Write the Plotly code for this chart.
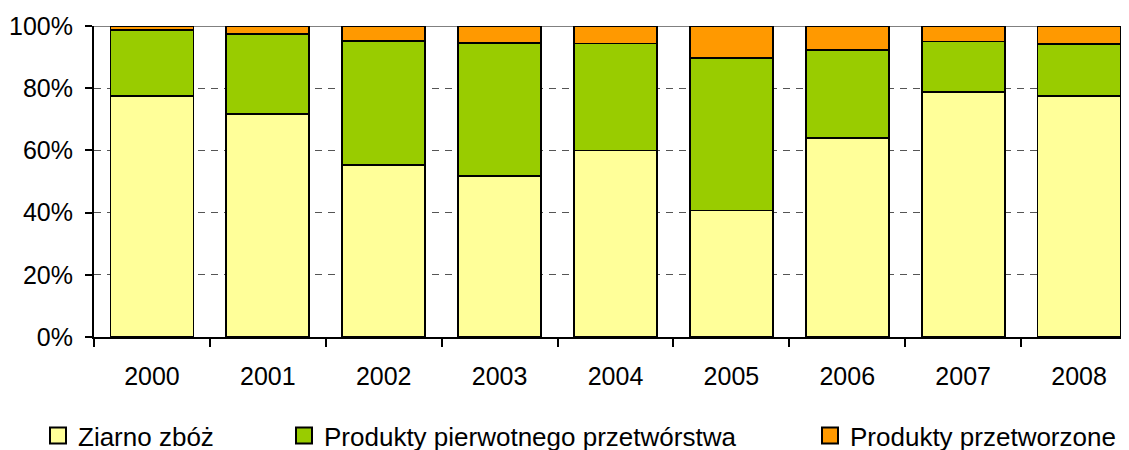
import plotly.graph_objects as go

years = ["2000", "2001", "2002", "2003", "2004", "2005", "2006", "2007", "2008"]

# udział w eksporcie (%)
ziarno = [77.5, 71.8, 55.4, 51.8, 60.0, 40.7, 64.0, 78.7, 77.6]
pierwotne = [21.1, 25.7, 39.9, 42.7, 34.4, 48.9, 28.2, 16.3, 16.5]
przetworzone = [1.4, 2.5, 4.7, 5.5, 5.6, 10.4, 7.8, 5.0, 5.9]

names = ["Ziarno zbóż", "Produkty pierwotnego przetwórstwa", "Produkty przetworzone"]
colors = ["#FFFF99", "#99CC00", "#FF9900"]

y_ticks = [0, 20, 40, 60, 80, 100]
y_labels = ["0%", "20%", "40%", "60%", "80%", "100%"]

font = "Liberation Sans, Arial, sans-serif"
outline = dict(color="black", width=1.8)

fig = go.Figure()
for vals, name, col in zip([ziarno, pierwotne, przetworzone], names, colors):
    fig.add_trace(go.Bar(x=years, y=vals, name=name, showlegend=False,
                         marker=dict(color=col, line=outline)))

# legend entries with larger square keys, one legend per entry (Excel-like spacing)
for i, (name, col) in enumerate(zip(names, colors)):
    fig.add_trace(go.Scatter(x=[None], y=[None], mode="markers", name=name,
                             marker=dict(symbol="square", size=16, color=col,
                                         line=dict(color="black", width=2)),
                             legend="legend" if i == 0 else f"legend{i + 1}"))

# top line at 100%
fig.add_shape(type="line", xref="paper", yref="y", x0=0, x1=1, y0=100, y1=100,
              line=dict(color="#808080", width=2), layer="below")

legend_style = dict(orientation="h", xref="container", yref="container",
                    xanchor="left", yanchor="middle", y=0.05,
                    font=dict(family=font, size=26, color="black"),
                    bgcolor="rgba(0,0,0,0)", itemclick=False)

# the page body adds an 8px offset, so margins are reduced by 8
fig.update_layout(
    width=1129, height=450,
    margin=dict(l=86, r=0, t=18, b=121, autoexpand=False),
    barmode="stack",
    bargap=0.284,
    plot_bgcolor="white",
    paper_bgcolor="white",
    font=dict(family=font, size=25, color="black"),
    showlegend=True,
    legend=dict(x=30 / 1129, **legend_style),
    legend2=dict(x=276 / 1129, **legend_style),
    legend3=dict(x=802 / 1129, **legend_style),
    xaxis=dict(
        range=[-0.5, 8.5],
        automargin=False,
        showline=True, linecolor="black", linewidth=2,
        ticks="outside", tickson="boundaries", ticklen=8, tickwidth=1.5, tickcolor="black",
        ticklabelstandoff=16,
        showgrid=False,
    ),
    yaxis=dict(
        range=[0, 100],
        automargin=False,
        tickvals=y_ticks, ticktext=y_labels,
        showline=True, linecolor="black", linewidth=2,
        ticks="outside", ticklen=7, tickwidth=1.5, tickcolor="black",
        ticklabelstandoff=7,
        showgrid=True, gridcolor="#555555", gridwidth=1, griddash="7px,6px",
        zeroline=False,
    ),
)

fig.write_html("out.html")
